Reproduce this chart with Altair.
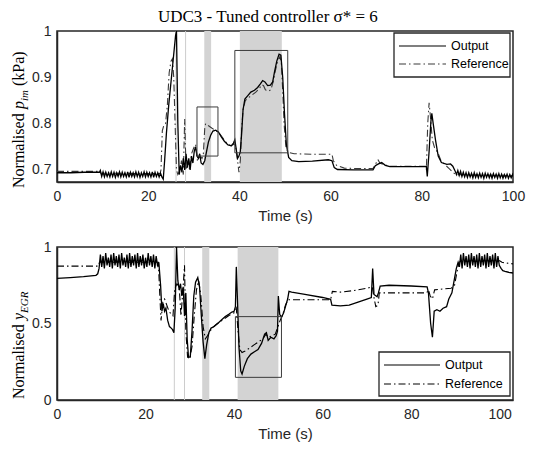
import altair as alt
import pandas as pd

# ---------------- data: top panel (normalised p_im) ----------------
top_out_t = [0, 3, 6, 9.3, 9.5,
             9.8, 10.1, 10.4, 10.7, 11.0, 11.3, 11.6, 11.9, 12.2, 12.5, 12.8, 13.1, 13.4, 13.7, 14.0, 14.3,
             14.6, 14.9, 15.2, 15.5, 15.8, 16.1, 16.4, 16.7, 17.0, 17.3, 17.6, 17.9, 18.2, 18.5, 18.8, 19.1,
             19.4, 19.7, 20.0, 20.3, 20.6, 20.9, 21.2, 21.5, 21.8, 22.1, 22.4, 22.7,
             23.0, 23.3, 23.6, 24.0, 24.5, 25.0, 25.5, 26.0, 26.2, 26.5, 26.8, 27.1, 27.4, 27.7, 28.0, 28.3,
             28.6, 28.9, 29.2, 29.5, 29.8, 30.1, 30.4, 30.7, 31.0, 31.3, 31.6, 32.0, 32.4, 32.8, 33.2, 33.7,
             34.2, 34.8, 35.4, 36.0, 36.7, 37.5, 38.2, 38.7, 39.0, 39.3, 39.6, 39.9, 40.2, 40.5, 40.8, 41.2,
             41.8, 42.5, 43.3, 44.0, 44.6, 45.1, 45.6, 46.2, 46.8, 47.3, 47.7, 48.2, 48.7, 49.1, 49.5, 49.9,
             50.3, 50.8, 51.5, 53, 56, 59.5, 60.3, 60.8, 61.5, 65, 69.3, 69.8, 70.5, 71.2, 72, 73, 80, 81.0,
             81.2, 81.6, 82.0, 82.2, 82.5, 83.0, 83.6, 84.3, 85.5, 86.3, 86.8, 87.3,
             87.6, 87.9, 88.2, 88.5, 88.8, 89.1, 89.4, 89.7, 90.0, 90.3, 90.6, 90.9, 91.2, 91.5, 91.8, 92.1,
             92.4, 92.7, 93.0, 93.3, 93.6, 93.9, 94.2, 94.5, 94.8, 95.1, 95.4, 95.7, 96.0, 96.3, 96.6, 96.9,
             97.2, 97.5, 97.8, 98.1, 98.4, 98.7, 99.0, 99.3, 99.6, 99.9, 100]
top_out_y = [0.694, 0.694, 0.695, 0.695, 0.699,
             0.686, 0.696, 0.685, 0.695, 0.686, 0.694, 0.685, 0.696, 0.686, 0.695, 0.684, 0.694, 0.686, 0.696, 0.685, 0.695,
             0.686, 0.694, 0.685, 0.696, 0.684, 0.695, 0.686, 0.694, 0.685, 0.696, 0.686, 0.695, 0.684, 0.694, 0.686, 0.696,
             0.685, 0.695, 0.686, 0.694, 0.685, 0.696, 0.684, 0.695, 0.686, 0.694, 0.685, 0.693,
             0.685, 0.680, 0.72, 0.78, 0.84, 0.89, 0.94, 0.99, 1.0, 0.80, 0.69, 0.71, 0.695, 0.725, 0.70, 0.735,
             0.705, 0.725, 0.70, 0.73, 0.715, 0.74, 0.75, 0.73, 0.725, 0.735, 0.715, 0.712, 0.72, 0.74, 0.76, 0.775,
             0.784, 0.786, 0.782, 0.772, 0.762, 0.754, 0.752, 0.758, 0.765, 0.745, 0.725, 0.73, 0.74, 0.78, 0.83, 0.853,
             0.86, 0.868, 0.872, 0.878, 0.886, 0.893, 0.89, 0.882, 0.883, 0.89, 0.912, 0.935, 0.95, 0.948, 0.9, 0.82,
             0.755, 0.727, 0.72, 0.718, 0.719, 0.722, 0.72, 0.705, 0.701, 0.7, 0.7, 0.709, 0.713, 0.716, 0.71, 0.707, 0.707, 0.707,
             0.686, 0.74, 0.805, 0.822, 0.80, 0.765, 0.73, 0.716, 0.712, 0.713, 0.708, 0.698,
             0.690, 0.699, 0.688, 0.697, 0.686, 0.695, 0.685, 0.694, 0.684, 0.694, 0.685, 0.693, 0.683, 0.694, 0.684, 0.692,
             0.683, 0.693, 0.684, 0.692, 0.682, 0.693, 0.684, 0.692, 0.683, 0.691, 0.682, 0.692, 0.684, 0.691, 0.682, 0.692,
             0.683, 0.691, 0.682, 0.690, 0.683, 0.691, 0.682, 0.690, 0.683, 0.690, 0.686]

top_ref_t = [0, 9.4, 9.6, 22.6, 22.8, 23.1, 23.4, 23.8, 24.2, 24.6, 25.0, 25.3, 25.6, 25.9, 26.2, 26.5, 27.0, 27.3,
             27.7, 28.0, 28.3, 28.7, 29.1, 29.5, 30.0, 30.4, 30.8, 31.3, 31.8, 32.1, 32.4, 32.6, 33.3, 34.0, 34.8,
             35.5, 36.3, 37.2, 38.2, 38.8, 39.2, 39.6, 39.9, 40.2, 40.5, 40.8, 41.3, 42, 42.8, 43.6, 44.3, 44.9,
             45.3, 45.7, 46.3, 46.9, 47.4, 47.9, 48.4, 48.9, 49.2, 49.5, 49.8, 50.2, 50.7, 52, 56, 60.3, 60.6, 61.3,
             63, 66, 69.3, 69.8, 70.4, 70.8, 71.5, 73, 80, 80.8, 81.0, 81.3, 81.6, 81.9, 82.3, 82.8, 83.5, 84.2, 85,
             86, 86.8, 87.5, 100]
top_ref_y = [0.697, 0.697, 0.693, 0.692, 0.70, 0.785, 0.795, 0.80, 0.84, 0.91, 0.935, 0.94, 0.90, 0.80, 0.70, 0.69, 0.70, 0.72,
             0.69, 0.81, 0.70, 0.72, 0.70, 0.735, 0.748, 0.755, 0.72, 0.73, 0.725, 0.735, 0.79, 0.80, 0.795, 0.79, 0.785,
             0.78, 0.77, 0.758, 0.752, 0.756, 0.748, 0.72, 0.695, 0.72, 0.79, 0.83, 0.85, 0.856, 0.862, 0.868, 0.875, 0.884,
             0.882, 0.873, 0.87, 0.873, 0.89, 0.915, 0.935, 0.945, 0.93, 0.87, 0.80, 0.75, 0.738, 0.735, 0.734, 0.734, 0.72, 0.71,
             0.704, 0.703, 0.703, 0.712, 0.722, 0.715, 0.712, 0.708, 0.708, 0.708, 0.70, 0.80, 0.845, 0.815, 0.765, 0.748, 0.738, 0.72, 0.712,
             0.703, 0.695, 0.69, 0.688]

top_shade_start = [32.3, 40.1]
top_shade_end = [33.8, 49.3]
top_vlines = [26.1, 28.2]
top_box_t0 = [30.7, 39.0]
top_box_t1 = [35.3, 50.6]
top_box_y0 = [0.730, 0.737]
top_box_y1 = [0.836, 0.958]

# ---------------- data: bottom panel (normalised y_EGR) ----------------
bot_out_t = [0, 3, 6, 8.8, 9.2, 9.5,
             9.8, 10.1, 10.4, 10.7, 11.0, 11.3, 11.6, 11.9, 12.2, 12.5, 12.8, 13.1, 13.4, 13.7, 14.0, 14.3,
             14.6, 14.9, 15.2, 15.5, 15.8, 16.1, 16.4, 16.7, 17.0, 17.3, 17.6, 17.9, 18.2, 18.5, 18.8, 19.1,
             19.4, 19.7, 20.0, 20.3, 20.6, 20.9, 21.2, 21.5, 21.8, 22.1, 22.4, 22.7,
             23.0, 23.4, 23.7, 24.0, 24.3, 24.6, 25.0, 25.4, 25.8, 26.1, 26.4, 26.7, 27.0, 27.3, 27.6, 27.9, 28.2,
             28.5, 28.8, 29.1, 29.4, 29.7, 30.1, 30.5, 30.9, 31.3, 31.8, 32.2, 32.6, 33.0, 33.4, 33.8, 34.3, 34.8,
             35.5, 36.3, 37.2, 38.0, 38.8, 39.5, 40.0, 40.3, 40.5, 40.8, 41.1, 41.5, 41.8, 42.3, 43.0, 43.8, 44.6,
             45.4, 46.2, 46.9, 47.3, 47.7, 48.3, 49.0, 49.5, 49.8, 50.0, 50.3, 50.7, 51.2, 51.7, 52.1, 52.4, 53,
             56, 60, 61.8, 62.1, 64, 66, 68, 70, 71.0, 71.3, 71.6, 72.3, 72.6, 73.0, 75, 80, 83.6, 83.9, 84.4,
             84.8, 85.2, 85.8, 86.5, 87.2, 88.0, 88.5, 89.2, 89.7, 90.2, 90.6,
             90.9, 91.2, 91.5, 91.8, 92.1, 92.4, 92.7, 93.0, 93.3, 93.6, 93.9, 94.2, 94.5, 94.8, 95.1, 95.4,
             95.7, 96.0, 96.3, 96.6, 96.9, 97.2, 97.5, 97.8, 98.1, 98.4, 98.7, 99.0, 99.3, 99.6, 99.9,
             100.3, 100.7, 101.2, 102, 103]
bot_out_y = [0.795, 0.80, 0.806, 0.815, 0.825, 0.86,
             0.95, 0.87, 0.94, 0.86, 0.96, 0.88, 0.93, 0.87, 0.95, 0.86, 0.96, 0.88, 0.94, 0.87, 0.95, 0.86,
             0.96, 0.88, 0.93, 0.87, 0.95, 0.86, 0.96, 0.87, 0.94, 0.88, 0.95, 0.86, 0.96, 0.87, 0.94, 0.88,
             0.95, 0.86, 0.93, 0.87, 0.96, 0.88, 0.94, 0.87, 0.95, 0.86, 0.94, 0.88,
             0.90, 0.75, 0.58, 0.63, 0.58, 0.60, 0.52, 0.48, 0.47, 0.46, 0.44, 0.60, 1.0, 0.78, 0.72, 0.76, 0.68,
             0.74, 0.55, 0.70, 0.40, 0.28, 0.28, 0.45, 0.68, 0.77, 0.80, 0.74, 0.55, 0.38, 0.27, 0.36, 0.44, 0.47,
             0.48, 0.50, 0.525, 0.545, 0.56, 0.575, 0.58, 0.61, 0.87, 0.62, 0.35, 0.19, 0.17, 0.22, 0.27, 0.30, 0.315,
             0.33, 0.37, 0.43, 0.44, 0.39, 0.41, 0.40, 0.42, 0.45, 0.68, 0.56, 0.54, 0.57, 0.62, 0.66, 0.71, 0.705,
             0.69, 0.67, 0.658, 0.62, 0.615, 0.62, 0.64, 0.66, 0.67, 0.86, 0.69, 0.675, 0.70, 0.745, 0.75, 0.745, 0.74, 0.70, 0.50,
             0.41, 0.58, 0.59, 0.58, 0.60, 0.61, 0.66, 0.70, 0.78, 0.86, 0.90,
             0.87, 0.95, 0.86, 0.96, 0.88, 0.94, 0.87, 0.95, 0.86, 0.96, 0.88, 0.94, 0.87, 0.95, 0.86, 0.96,
             0.87, 0.94, 0.88, 0.95, 0.86, 0.96, 0.87, 0.94, 0.88, 0.95, 0.86, 0.96, 0.87, 0.94, 0.88,
             0.86, 0.845, 0.84, 0.835, 0.83]

bot_ref_t = [0, 9.3, 9.6, 22.9, 23.2, 23.5, 23.9, 24.3, 24.8, 25.3, 25.8, 26.2, 26.6, 27.1, 27.6, 28.0, 28.4, 28.8,
             29.1, 29.5, 30.0, 30.5, 31.0, 31.5, 32.0, 32.5, 33.0, 33.5, 34.0, 35.0, 36.0, 37.5, 39.0, 40.0, 40.5,
             40.9, 41.3, 41.8, 42.5, 43.5, 44.5, 45.5, 46.5, 47.2, 47.8, 48.5, 49.3, 49.8, 50.4, 51.0, 51.6, 52.2,
             55, 61.8, 62.2, 64, 67, 70, 71.2, 71.6, 72.0, 72.5, 72.8, 76, 83.5, 83.9, 84.3, 84.8, 85.3, 87, 89,
             89.8, 90.3, 90.8, 91.5, 99, 100, 100.5, 101.5, 103]
bot_ref_y = [0.875, 0.875, 0.90, 0.90, 0.70, 0.52, 0.64, 0.66, 0.62, 0.58, 0.56, 0.55, 0.73, 0.76, 0.74, 0.55, 0.70, 0.88,
             0.45, 0.28, 0.27, 0.35, 0.55, 0.72, 0.78, 0.68, 0.48, 0.40, 0.42, 0.47, 0.495, 0.525, 0.555, 0.57, 0.60,
             0.45, 0.33, 0.31, 0.32, 0.34, 0.36, 0.38, 0.40, 0.43, 0.41, 0.42, 0.43, 0.47, 0.52, 0.56, 0.62, 0.655,
             0.655, 0.655, 0.71, 0.705, 0.715, 0.73, 0.74, 0.67, 0.61, 0.62, 0.70, 0.70, 0.70, 0.72, 0.68, 0.66, 0.72, 0.725, 0.73,
             0.75, 0.83, 0.90, 0.91, 0.91, 0.91, 0.90, 0.895, 0.89]

bot_shade_start = [32.8, 40.8]
bot_shade_end = [34.4, 50.0]
bot_vlines = [26.5, 28.8]
bot_box_t0 = [40.3]
bot_box_t1 = [50.7]
bot_box_y0 = [0.148]
bot_box_y1 = [0.545]

series_names = ["Output", "Reference"]

# ---------------- styling ----------------
W = 456
H_TOP = 151
H_BOT = 153
SANS = "Liberation Sans"
SERIF = "Liberation Serif"
FRAME = "#262626"
SHADE = "#d3d3d3"
DASHDOT = [7, 3, 1.5, 3]
ONE = pd.DataFrame({"k": [0]})


def x_axis(values):
    return alt.Axis(values=values, format="d", title="Time (s)", grid=False, ticks=False,
                    labelFont=SANS, labelFontSize=14, labelColor="#262626", labelPadding=7,
                    labelFlush=False, titleFont=SANS, titleFontSize=15, titleFontWeight="normal",
                    titleColor="#262626", titlePadding=5, domainColor=FRAME, domainWidth=1.5)


def y_axis(values):
    return alt.Axis(values=values, format="~g", title=None, grid=False, ticks=False,
                    labelFont=SANS, labelFontSize=14, labelColor="#262626", labelPadding=6,
                    domainColor=FRAME, domainWidth=1.5)


def legend_layers(box, line_x, text_x, row_y, ref_color):
    x0, x1, y0, y1 = box
    layers = [alt.Chart(ONE).mark_rect(fill="white", stroke=FRAME, strokeWidth=1.3).encode(
        x=alt.value(x0), x2=alt.value(x1), y=alt.value(y0), y2=alt.value(y1))]
    styles = [("black", [1, 0]), (ref_color, DASHDOT)]
    for name, ry, (col, dash) in zip(series_names, row_y, styles):
        layers.append(alt.Chart(ONE).mark_rule(color=col, strokeWidth=1.2, strokeDash=dash).encode(
            x=alt.value(line_x[0]), x2=alt.value(line_x[1]), y=alt.value(ry)))
        layers.append(alt.Chart(pd.DataFrame({"s": [name]})).mark_text(
            align="left", baseline="middle", font=SANS, fontSize=12.5, color="black").encode(
            text="s:N", x=alt.value(text_x), y=alt.value(ry)))
    return layers


def panel(out_t, out_y, ref_t, ref_y, s0, s1, vlines, b_t0, b_t1, b_y0, b_y1,
          xdom, ydom, xvals, yvals, height, title_pieces, ref_color, leg):
    xs = alt.Scale(domain=xdom, nice=False, zero=False)
    ys = alt.Scale(domain=ydom, nice=False, zero=False)
    df_out = pd.DataFrame({"t": out_t, "y": out_y, "series": "Output"})
    df_ref = pd.DataFrame({"t": ref_t, "y": ref_y, "series": "Reference"})
    df_shade = pd.DataFrame({"a": s0, "b": s1})
    df_v = pd.DataFrame({"t": vlines})
    df_box = pd.DataFrame({"t0": b_t0, "t1": b_t1, "y0": b_y0, "y1": b_y1})

    shade = alt.Chart(df_shade).mark_rect(color=SHADE).encode(
        x=alt.X("a:Q", scale=xs, axis=x_axis(xvals)), x2="b:Q",
        y=alt.value(0), y2=alt.value(height))
    vl = alt.Chart(df_v).mark_rule(color="#cccccc", strokeWidth=1).encode(
        x=alt.X("t:Q", scale=xs), y=alt.value(0), y2=alt.value(height))
    ref = alt.Chart(df_ref).mark_line(strokeWidth=1.1, clip=True, color=ref_color,
                                      strokeDash=DASHDOT).encode(
        x=alt.X("t:Q", scale=xs, axis=x_axis(xvals)),
        y=alt.Y("y:Q", scale=ys, axis=y_axis(yvals)))
    out = alt.Chart(df_out).mark_line(strokeWidth=1.3, clip=True, color="black").encode(
        x=alt.X("t:Q", scale=xs), y=alt.Y("y:Q", scale=ys))
    box = alt.Chart(df_box).mark_rect(fillOpacity=0, stroke="#3c3c3c", strokeWidth=1).encode(
        x=alt.X("t0:Q", scale=xs), x2="t1:Q", y=alt.Y("y0:Q", scale=ys), y2="y1:Q")

    layers = [shade, vl, ref, out, box]
    layers += legend_layers(*leg, ref_color)
    for text, px, py, size, style in title_pieces:
        layers.append(
            alt.Chart(pd.DataFrame({"s": [text]})).mark_text(
                angle=270, align="left", baseline="alphabetic", font=SERIF, fontSize=size,
                fontStyle=style, color="black").encode(
                text="s:N", x=alt.value(px), y=alt.value(py)))
    return alt.layer(*layers).properties(width=W, height=height)


top_title = [("Normalised", -33, 157, 16, "normal"),
             ("p", -33, 78, 16, "italic"),
             ("im", -29, 70, 11, "italic"),
             ("(kPa)", -33, 55, 16, "normal")]
bot_title = [("Normalised", -33, 152, 16, "normal"),
             ("y", -33, 73, 16, "italic"),
             ("EGR", -29, 66, 11, "italic")]

# legend geometry: (box x0, x1, y0, y1), (line x0, x1), text x, (row y Output, row y Reference)
top_leg = ((337, 453, 2, 46), (342, 389), 394, (15, 33))
bot_leg = ((322, 453, 105, 149), (327, 383), 388, (118, 137))

top = panel(top_out_t, top_out_y, top_ref_t, top_ref_y, top_shade_start, top_shade_end, top_vlines,
            top_box_t0, top_box_t1, top_box_y0, top_box_y1,
            [0, 100], [0.674, 1.0], [0, 20, 40, 60, 80, 100], [0.7, 0.8, 0.9, 1.0], H_TOP,
            top_title, "#3a3a3a", top_leg)
bot = panel(bot_out_t, bot_out_y, bot_ref_t, bot_ref_y, bot_shade_start, bot_shade_end, bot_vlines,
            bot_box_t0, bot_box_t1, bot_box_y0, bot_box_y1,
            [0, 103], [0.0, 1.0], [0, 20, 40, 60, 80, 100], [0, 0.5, 1], H_BOT,
            bot_title, "black", bot_leg)

chart = alt.vconcat(top, bot, spacing=15).resolve_scale(
    x="independent", y="independent"
).properties(
    title=alt.TitleParams("UDC3 - Tuned controller σ* = 6", font=SERIF, fontSize=17,
                          fontWeight="normal", color="black", anchor="middle", offset=-3),
    padding={"left": 2, "top": 0, "right": 5, "bottom": 2}
).configure_view(stroke=FRAME, strokeWidth=1.5)

chart.save("out.html", embed_options={"renderer": "svg", "actions": False})
